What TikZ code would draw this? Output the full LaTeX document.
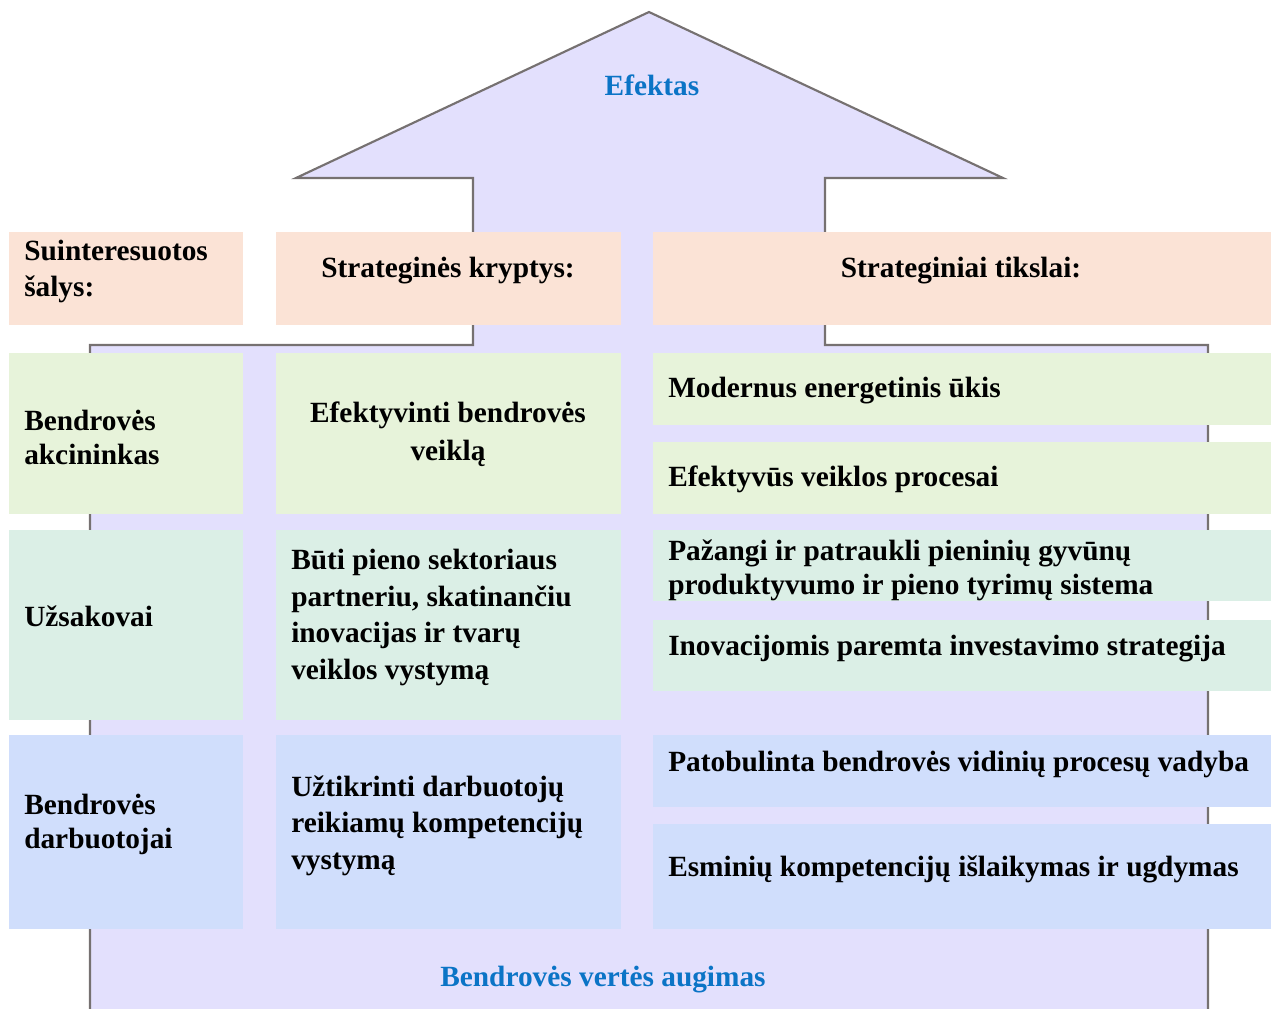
\documentclass[tikz,border=0pt]{standalone}
\usepackage{fontspec}
\setmainfont{Liberation Serif}
\usetikzlibrary{fit}
\definecolor{peach}{HTML}{FBE3D6}
\definecolor{greenbox}{HTML}{E7F3DA}
\definecolor{mintbox}{HTML}{DBEFE6}
\definecolor{bluebox}{HTML}{D0DEFC}
\definecolor{lav}{HTML}{E3E0FD}
\definecolor{outl}{HTML}{767171}
\definecolor{titleblue}{HTML}{0B74C6}
\tikzset{
  box/.style={draw=none, inner sep=0pt, outer sep=0pt},
  txt/.style={inner sep=0pt, yshift=-2.2pt, align=left, font=\fontsize{22}{#1}\selectfont\bfseries},
  txt/.default={26},
  ctxt/.style={inner sep=0pt, yshift=-2.2pt, align=center, font=\fontsize{22}{#1}\selectfont\bfseries},
  ctxt/.default={28},
  ttl/.style={inner sep=0pt, yshift=-2.2pt, text=titleblue, font=\fontsize{22}{26}\selectfont\bfseries}
}
\begin{document}
\begin{tikzpicture}[x=0.75pt,y=-0.75pt]
\useasboundingbox (0,0) rectangle (1275,1008);
% big arrow
\coordinate (ap) at (649,12);
\coordinate (rw) at (1003,178);
\coordinate (rs) at (825,178);
\coordinate (rsb) at (825,345);
\coordinate (rb) at (1208,345);
\coordinate (rbb) at (1208,1012);
\coordinate (lbb) at (90,1012);
\coordinate (lb) at (90,345);
\coordinate (lsb) at (473,345);
\coordinate (ls) at (473,178);
\coordinate (lw) at (296,178);
\fill[lav] (ap) -- (rw) -- (rs) -- (rsb) -- (rb) -- (rbb) -- (lbb) -- (lb) -- (lsb) -- (ls) -- (lw) -- cycle;
\draw[outl, line width=1.6pt, line join=miter] (lbb) -- (lb) -- (lsb) -- (ls) -- (lw) -- (ap) -- (rw) -- (rs) -- (rsb) -- (rb) -- (rbb);
\node[ttl] (efektas) at (652,82) {Efektas};
\node[ttl] (augimas) at (603,977) {Bendrovės vertės augimas};
% header row
\node[box, fill=peach, fit={(9,232)(243,325)}] (a1) {};
\node[box, fill=peach, fit={(276,232)(621,325)}] (a2) {};
\node[box, fill=peach, fit={(653,232)(1271,325)}] (a3) {};
\node[txt={27.5}, anchor=west] (ta1) at (24,268.5) {Suinteresuotos\\šalys:};
\node[ctxt] (ta2) at (448,268) {Strateginės kryptys:};
\node[ctxt] (ta3) at (961,268) {Strateginiai tikslai:};
% row 1
\node[box, fill=greenbox, fit={(9,353)(243,514)}] (b1) {};
\node[box, fill=greenbox, fit={(276,353)(621,514)}] (b2) {};
\node[box, fill=greenbox, fit={(653,353)(1271,425)}] (b3) {};
\node[box, fill=greenbox, fit={(653,442)(1271,514)}] (b4) {};
\node[txt={25.5}, anchor=west] (tb1) at (24,435) {Bendrovės\\akcininkas};
\node[ctxt={28.5}] (tb2) at (448,431) {Efektyvinti bendrovės\\veiklą};
\node[txt, anchor=west] (tb3) at (668,388) {Modernus energetinis ūkis};
\node[txt, anchor=west] (tb4) at (668,476) {Efektyvūs veiklos procesai};
% row 2
\node[box, fill=mintbox, fit={(9,530)(243,720)}] (c1) {};
\node[box, fill=mintbox, fit={(276,530)(621,720)}] (c2) {};
\node[box, fill=mintbox, fit={(653,530)(1271,601)}] (c3) {};
\node[box, fill=mintbox, fit={(653,620)(1271,691)}] (c4) {};
\node[txt, anchor=west] (tc1) at (24,613) {Užsakovai};
\node[txt={27.3}, anchor=west] (tc2) at (291,614.5) {Būti pieno sektoriaus\\partneriu, skatinančiu\\inovacijas ir tvarų\\veiklos vystymą};
\node[txt={25.5}, anchor=west] (tc3) at (668,567) {Pažangi ir patraukli pieninių gyvūnų\\produktyvumo ir pieno tyrimų sistema};
\node[txt, anchor=west] (tc4) at (668,646) {Inovacijomis paremta investavimo strategija};
% row 3
\node[box, fill=bluebox, fit={(9,735)(243,929)}] (d1) {};
\node[box, fill=bluebox, fit={(276,735)(621,929)}] (d2) {};
\node[box, fill=bluebox, fit={(653,735)(1271,807)}] (d3) {};
\node[box, fill=bluebox, fit={(653,824)(1271,929)}] (d4) {};
\node[txt={26}, anchor=west] (td1) at (24,821.5) {Bendrovės\\darbuotojai};
\node[txt={27.3}, anchor=west] (td2) at (291,822.5) {Užtikrinti darbuotojų\\reikiamų kompetencijų\\vystymą};
\node[txt, anchor=west] (td3) at (668,762) {Patobulinta bendrovės vidinių procesų vadyba};
\node[txt, anchor=west] (td4) at (668,866) {Esminių kompetencijų išlaikymas ir ugdymas};
\end{tikzpicture}
\end{document}
